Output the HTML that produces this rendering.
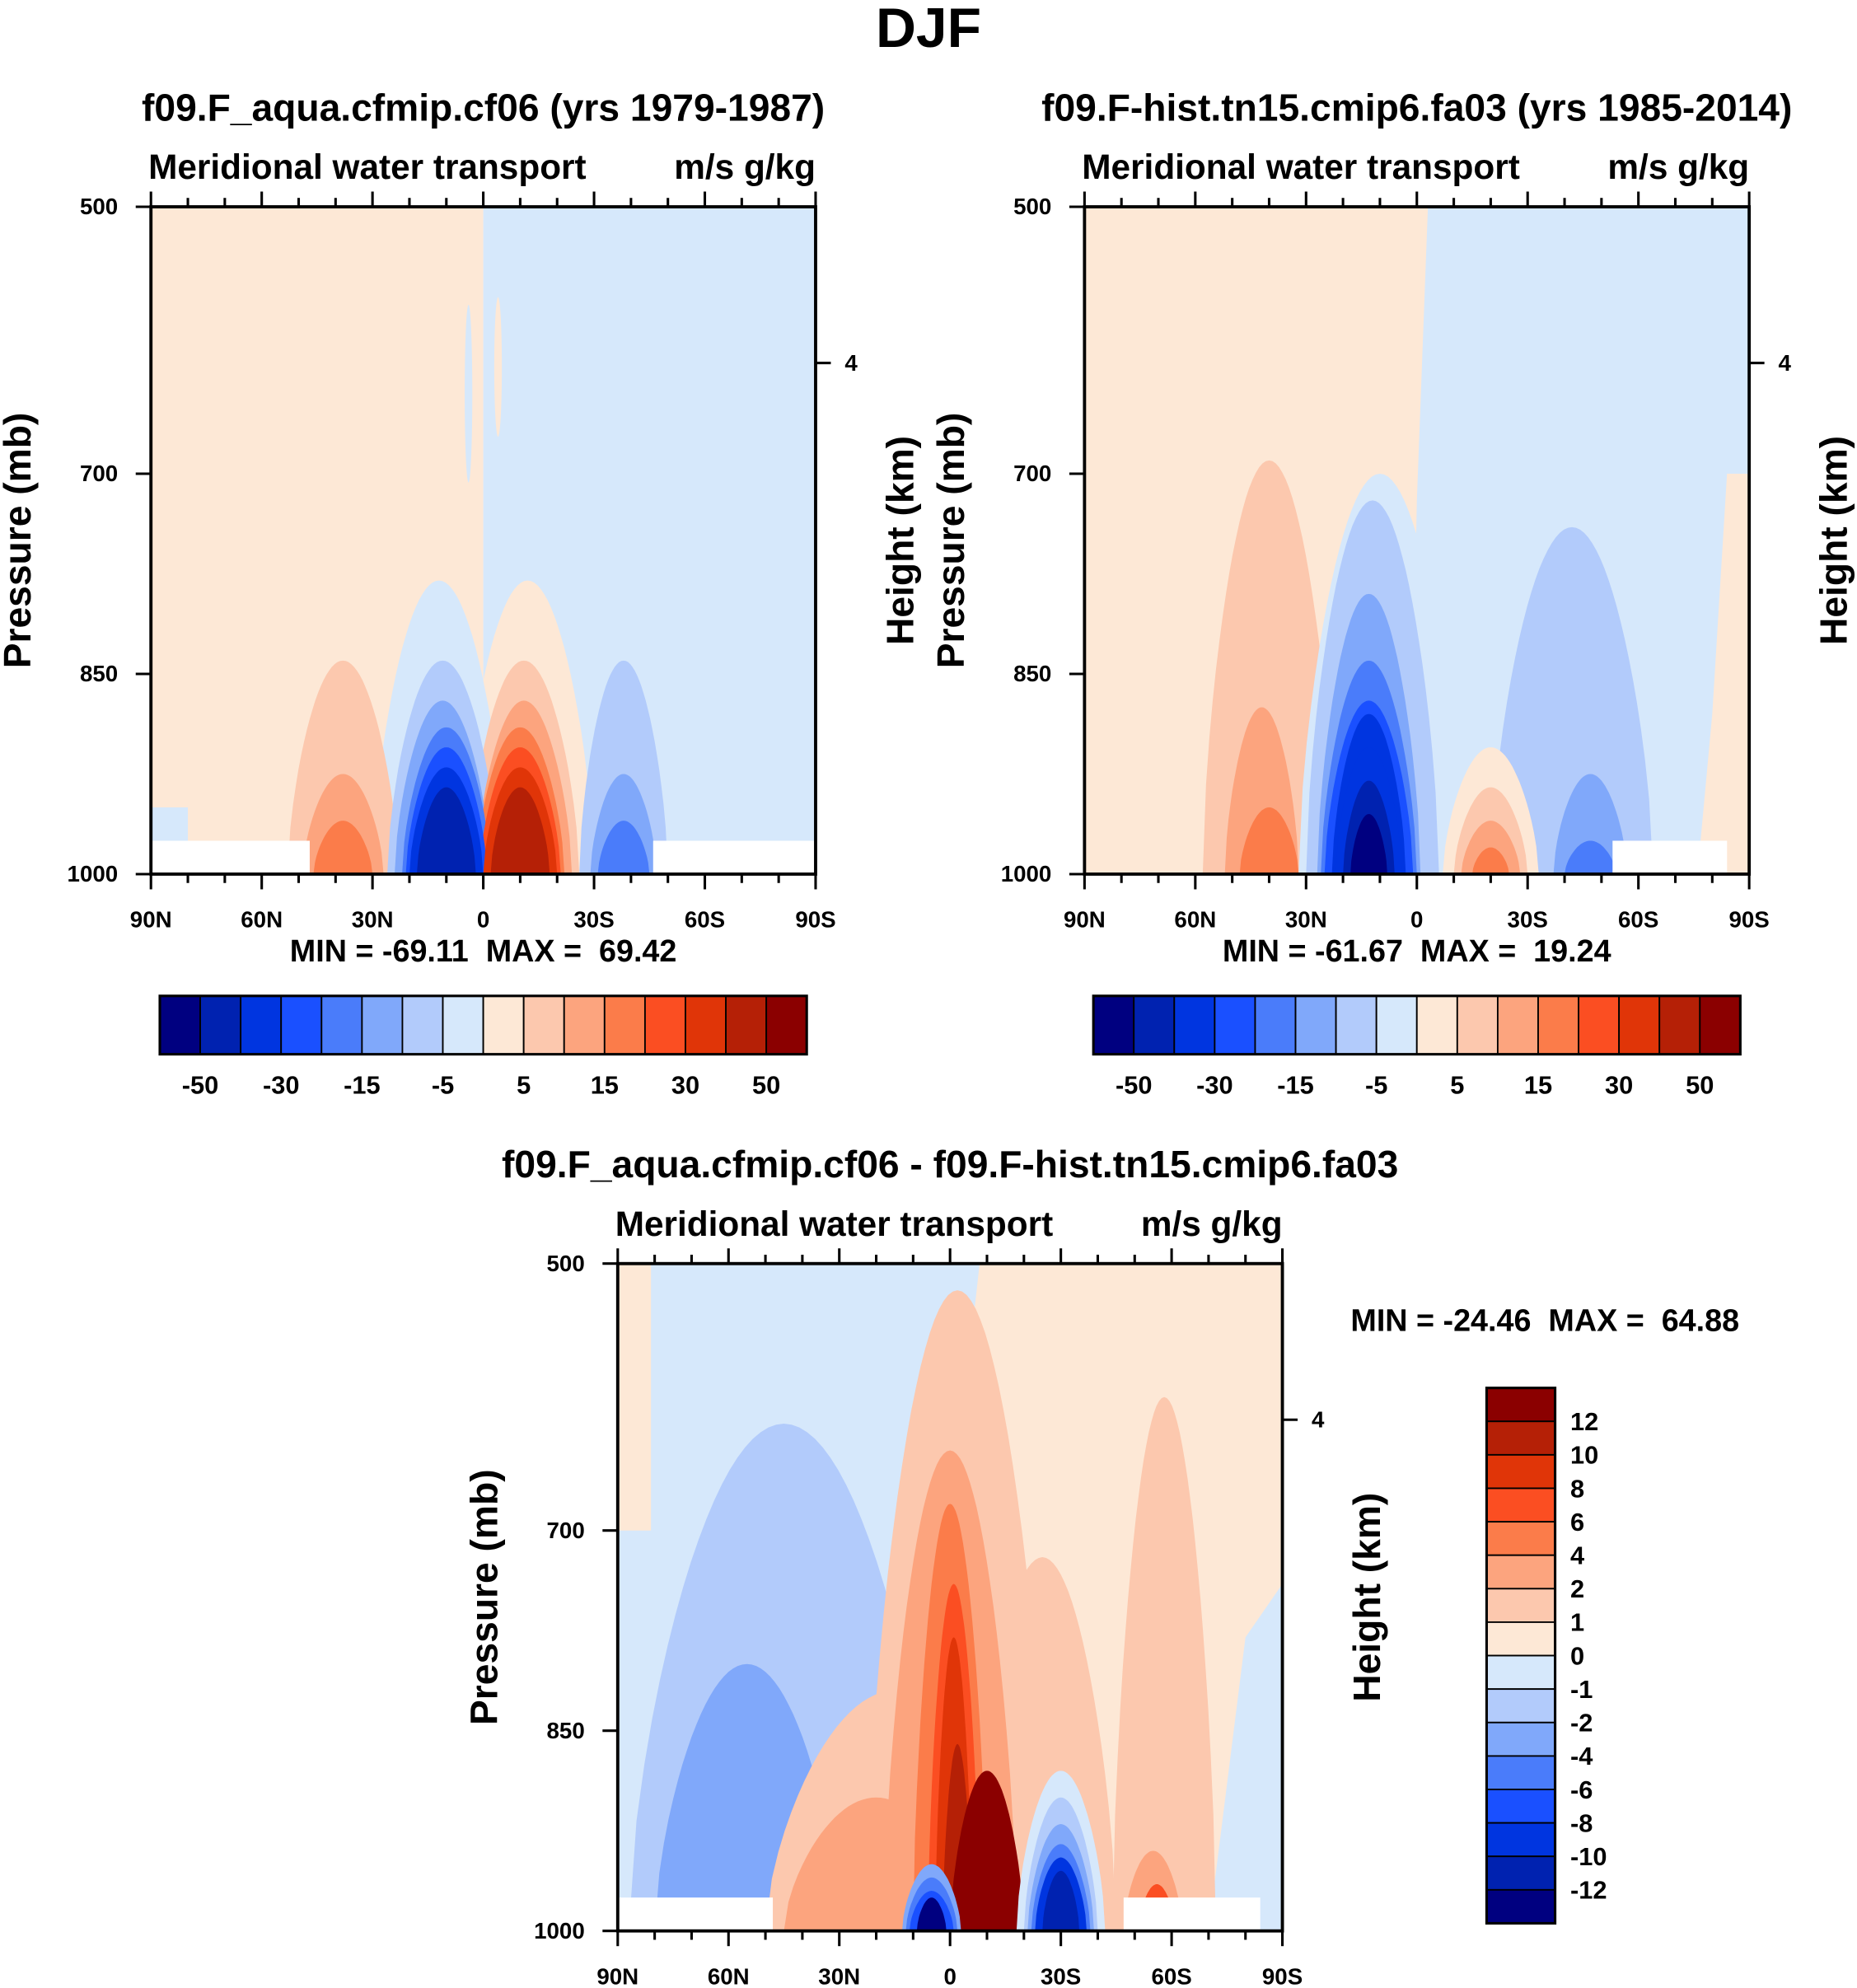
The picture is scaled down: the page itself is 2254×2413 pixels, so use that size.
<!DOCTYPE html>
<html><head><meta charset="utf-8"><style>
html,body{margin:0;padding:0;background:#fff}
svg{display:block}
text{font-family:"Liberation Sans",sans-serif;font-weight:bold;fill:#000;white-space:pre}
</style></head><body>
<svg id="s" width="2254" height="2413" viewBox="0 0 1464 1567" preserveAspectRatio="none">
<text x="732" y="37" font-size="44" text-anchor="middle">DJF</text>
</svg>
<script>
const colors=["#000080","#0022b0","#0035e0","#1a50ff","#4a7cfa","#80a8fa","#b2cbfb","#d6e8fb","#fde8d6","#fcc8ae","#fca47e","#fb7c4a","#fb4e22","#e03508","#b52006","#8b0000"];
const levelLabelsTop=["-50","-30","-15","-5","5","15","30","50"];
const levelLabelsDiff=["12","10","8","6","4","2","1","0","-1","-2","-4","-6","-8","-10","-12"];
const latTicks=[90,60,30,0,-30,-60,-90];
const latTickLabels=["90N","60N","30N","0","30S","60S","90S"];
const presTicks=[500,700,850,1000];
// panel 1 blobs: level index into colors (0..15)
const p1Lat=[-12,12,38,-38,-11,11,-11,11,-10,10,-10,10,-10,10,-10,10,38,-38,38,-38];
const p1Hw=[18,18,15,12,15,15,13,13,12,12,11,11,10,10,8,8,11,9,8,7];
const p1Top=[780,780,840,840,840,840,870,870,890,890,905,905,920,920,935,935,925,925,960,960];
const p1Lvl=[8,7,9,6,9,6,10,5,11,4,12,3,13,2,14,1,10,5,11,4];
// panel 2 blobs
const p2Lat=[-48,40,10,42,12,-42,13,13,13,-20,-20,-20,40,-47,13,13,13,13,-47,-20];
const p2Hw=[22,18,22,10,18,22,14,13,12,13,10,8,8,10,10,9,7,5,7,5];
const p2Top=[700,690,700,875,720,740,790,840,870,905,935,960,950,925,880,905,930,955,975,980];
const p2Lvl=[7,9,7,10,6,6,5,4,3,8,9,10,11,5,2,2,1,0,4,11];
// difference panel blobs
const dLat=[45,55,-25,-2,15,20,-58,0,0,-1,-1,-2,-10,5,5,5,5,-30,-30,-30,-30,-30,-30,-55,-56];
const dHw=[42,25,20,25,35,25,14,18,10,7,5,4,10,8,7,6,4,12,10,9,8,7,5,8,5];
const dTop=[620,800,720,520,820,900,600,640,680,740,780,860,880,950,960,970,975,880,900,920,935,945,955,940,965];
const dLvl=[6,5,9,9,9,10,9,10,11,12,13,14,15,5,4,3,0,7,6,5,4,2,1,10,12];
const NS="http://www.w3.org/2000/svg";
const svg=document.getElementById('s');
function mk(tag,attrs,parent){const e=document.createElementNS(NS,tag);for(const k in attrs)e.setAttribute(k,attrs[k]);(parent||svg).appendChild(e);return e;}
function txt(x,y,s,size,anchor,parent){const t=mk('text',{x:x,y:y,'font-size':size,'text-anchor':anchor||'middle'},parent);t.textContent=s;return t;}
function panel(x0,y0,w,h,bg,lat,hw,top,lvl,masks,title,minmax,extra){
  const g=mk('g',{});
  
  
  const X=l=>x0+(90-l)/180*w, Y=p=>y0+(p-500)/500*h;
  const cp='cp'+x0;
  const cl=mk('clipPath',{id:cp},g);mk('rect',{x:x0,y:y0,width:w,height:h},cl);
  const inner=mk('g',{'clip-path':'url(#'+cp+')'},g);
  bg(inner,X,Y);
  for(let i=0;i<lat.length;i++){
    let pts=[];
    for(let k=0;k<=40;k++){const f=-1+2*k/40;const l=lat[i]+hw[i]*f;
      const p=1000-(1000-top[i])*Math.pow(Math.cos(Math.PI/2*f),0.6);
      pts.push(X(l).toFixed(1)+','+Y(p).toFixed(1));}
    const b=mk('polygon',{points:pts.join(' '),fill:colors[lvl[i]]},inner);
    
    
  }
  masks.forEach(m=>mk('rect',{x:X(m[0]),y:Y(975),width:X(m[1])-X(m[0]),height:Y(1000)-Y(975),fill:'#fff'},inner));
  mk('rect',{x:x0,y:y0,width:w,height:h,fill:'none',stroke:'#000','stroke-width':2.5},g);
  for(let l=90;l>=-90;l-=10){const maj=(l%30===0);const L=maj?12:7;
    mk('line',{x1:X(l),x2:X(l),y1:y0,y2:y0-L,stroke:'#000','stroke-width':2},g);
    mk('line',{x1:X(l),x2:X(l),y1:y0+h,y2:y0+h+L,stroke:'#000','stroke-width':2},g);}
  latTicks.forEach((l,i)=>txt(X(l),y0+h+42,latTickLabels[i],18,'middle',g));
  presTicks.forEach(p=>{mk('line',{x1:x0,x2:x0-12,y1:Y(p),y2:Y(p),stroke:'#000','stroke-width':2},g);txt(x0-26,Y(p)+6,String(p),18,'end',g);});
  mk('line',{x1:x0+w,x2:x0+w+12,y1:Y(617),y2:Y(617),stroke:'#000','stroke-width':2},g);
  txt(x0+w+28,Y(617)+6,'4',18,'middle',g);
  const t=txt(x0+w/2,y0-68,title,30,'middle',g);
  txt(x0-2,y0-22,'Meridional water transport',27.5,'start',g);
  txt(x0+w,y0-22,'m/s g/kg',27.5,'end',g);
  const yc=y0+h/2;
  const pl=txt(0,0,'Pressure (mb)',30,'middle',g);pl.setAttribute('transform','translate('+(x0-95)+','+yc+') rotate(-90)');
  const hl=txt(0,0,'Height (km)',30,'middle',g);hl.setAttribute('transform','translate('+(x0+w+77)+','+yc+') rotate(-90)');
  if(minmax){const m=txt(minmax[0],minmax[1],minmax[2],24.5,'middle',g);}
  if(extra)extra(g,X,Y);
}
function hbar(x0,y0,w,h){const g=mk('g',{});
  
  
  const bw=w/16;colors.forEach((c,i)=>mk('rect',{x:x0+i*bw,y:y0,width:bw,height:h,fill:c,stroke:'#000','stroke-width':1.2},g));
  mk('rect',{x:x0,y:y0,width:w,height:h,fill:'none',stroke:'#000','stroke-width':2},g);
  levelLabelsTop.forEach((s,i)=>txt(x0+(1+2*i)*bw,y0+77,s,20,'middle',g));}
// panel 1
panel(119,163,524,526,(g,X,Y)=>{mk('rect',{x:X(90),y:Y(500),width:X(0)-X(90),height:526,fill:colors[8]},g);mk('rect',{x:X(0),y:Y(500),width:X(-90)-X(0),height:526,fill:colors[7]},g);
  mk('rect',{x:X(90),y:Y(950),width:X(80)-X(90),height:Y(1000)-Y(950),fill:colors[7]},g);
  mk('ellipse',{cx:X(4),cy:Y(640),rx:3,ry:70,fill:colors[7]},g);mk('ellipse',{cx:X(-4),cy:Y(620),rx:3,ry:55,fill:colors[8]},g);},
  p1Lat,p1Hw,p1Top,p1Lvl,[[90,47],[-46,-90]],'f09.F_aqua.cfmip.cf06 (yrs 1979-1987)',[381,758,'MIN = -69.11  MAX =  69.42']);
hbar(126,785,510,46);
// panel 2
panel(855,163,524,526,(g,X,Y)=>{mk('rect',{x:X(90),y:Y(500),width:X(-90)-X(90),height:526,fill:colors[7]},g);
  mk('polygon',{points:[X(90),Y(500),X(-3),Y(500),X(0),Y(720),X(2),Y(1000),X(90),Y(1000)].join(','),fill:colors[8]},g);
  mk('polygon',{points:[X(-84),Y(700),X(-90),Y(700),X(-90),Y(1000),X(-76),Y(1000),X(-80),Y(880)].join(','),fill:colors[8]},g);},
  p2Lat,p2Hw,p2Top,p2Lvl,[[-53,-84]],'f09.F-hist.tn15.cmip6.fa03 (yrs 1985-2014)',[1117,758,'MIN = -61.67  MAX =  19.24']);
hbar(862,785,510,46);
// difference panel
panel(487,996,524,526,(g,X,Y)=>{mk('rect',{x:X(90),y:Y(500),width:X(-90)-X(90),height:526,fill:colors[7]},g);
  mk('polygon',{points:[X(-8),Y(500),X(-90),Y(500),X(-90),Y(1000),X(2),Y(1000),X(0),Y(700)].join(','),fill:colors[8]},g);
  mk('polygon',{points:[X(-80),Y(780),X(-90),Y(740),X(-90),Y(1000),X(-70),Y(1000)].join(','),fill:colors[7]},g);
  mk('rect',{x:X(90),y:Y(500),width:X(81)-X(90),height:Y(700)-Y(500),fill:colors[8]},g);},
  dLat,dHw,dTop,dLvl,[[90,48],[-47,-84]],'f09.F_aqua.cfmip.cf06 - f09.F-hist.tn15.cmip6.fa03',[1218,1049,'MIN = -24.46  MAX =  64.88']);
(function(){const g=mk('g',{});
  
  
  const x0=1172,y0=1094,w=54,h=422,bh=h/16;
  colors.slice().reverse().forEach((c,i)=>mk('rect',{x:x0,y:y0+i*bh,width:w,height:bh,fill:c,stroke:'#000','stroke-width':1.2},g));
  mk('rect',{x:x0,y:y0,width:w,height:h,fill:'none',stroke:'#000','stroke-width':2},g);
  levelLabelsDiff.forEach((s,i)=>txt(x0+w+12,y0+(i+1)*bh+7,s,20,'start',g));})();
</script>
</body></html>
